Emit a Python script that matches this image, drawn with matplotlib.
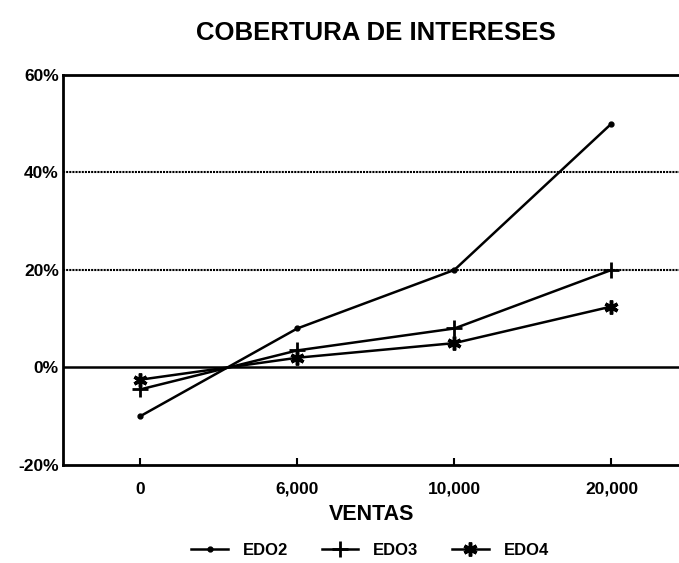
import numpy as np
import matplotlib.pyplot as plt

# Cobertura de intereses vs ventas
ventas = ["0", "6,000", "10,000", "20,000"]
edo2 = [-10, 8, 20, 50]
edo3 = [-4.5, 3.5, 8, 20]
edo4 = [-2.5, 2, 5, 12.5]
yticks = [-20, 0, 20, 40, 60]

plt.rcParams['font.family'] = ['Liberation Sans', 'DejaVu Sans']
plt.rcParams['font.weight'] = 'bold'

fig = plt.figure(figsize=(6.79, 5.63), dpi=100)
ax = fig.add_axes([0.093, 0.174, 0.907, 0.693])

x = np.arange(len(ventas))
ax.plot(x, edo2, color='black', lw=1.8, marker='o', ms=3.5, label='EDO2')
ax.plot(x, edo3, color='black', lw=1.8, marker='+', ms=12, mew=2, label='EDO3')
ax.plot(x, edo4, color='black', lw=1.8, marker=(6, 2, 0), ms=10, mew=2.5, label='EDO4')

ax.axhline(0, color='black', lw=1.8, zorder=1)
for y in [20, 40]:
    ax.axhline(y, color='black', lw=1.5, ls=(0, (1, 0.5)), zorder=1)

ax.set_xlim(-0.49, 3.43)
ax.set_ylim(-20, 60)
ax.set_xticks(x)
ax.set_xticklabels(ventas, fontsize=12.5, fontweight='heavy')
ax.set_yticks(yticks)
ax.set_yticklabels([f"{v}%" for v in yticks], fontsize=12.5, fontweight='heavy')
ax.tick_params(axis='x', direction='in', length=5, width=1.5, pad=12)
ax.tick_params(axis='y', length=0, pad=3)

for s in ['left', 'bottom', 'top']:
    ax.spines[s].set_linewidth(2)
ax.spines['right'].set_visible(False)

ax.set_xlabel("VENTAS", fontsize=15.5, fontweight='heavy', labelpad=5)
fig.suptitle("COBERTURA DE INTERESES", fontsize=18.5, fontweight='heavy', x=0.553, y=0.963)

fig.legend(loc='lower center', bbox_to_anchor=(0.545, -0.018), ncol=3, frameon=False,
           handlelength=2.2, columnspacing=2.0, handletextpad=0.9,
           prop={'weight': 'bold', 'size': 12})

fig.savefig("out.png", dpi=100)
